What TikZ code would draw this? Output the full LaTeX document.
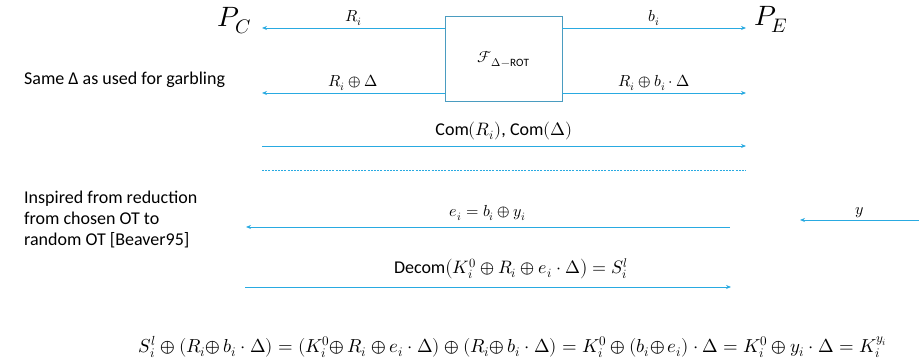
\documentclass[tikz,border=0pt]{standalone}
\usepackage{fontspec}
\usepackage{unicode-math}
\setmainfont{Carlito}
\setmathfont{Latin Modern Math}
\usetikzlibrary{arrows.meta}
\definecolor{arr}{RGB}{41,170,225}
\definecolor{boxc}{RGB}{74,156,192}
\tikzset{
  msg/.style={draw=arr, line width=0.8pt, -{Stealth[length=5pt,width=4pt]}},
  lbl/.style={font=\fontsize{16}{18}\selectfont, inner sep=1pt},
  tlbl/.style={font=\fontsize{18}{20}\selectfont, inner sep=1pt},
  side/.style={font=\fontsize{18}{21}\selectfont, align=left, anchor=west, inner sep=0pt},
  party/.style={font=\fontsize{28}{30}\selectfont, inner sep=0pt},
}
\begin{document}
\begin{tikzpicture}[x=1pt,y=-1pt]
\useasboundingbox (0,0) rectangle (919,363);
% parties
\node[party] (pc) at (234,21) {$P_C$};
\node[party] (pe) at (771,19) {$P_E$};
% functionality box
\node[draw=boxc, line width=0.8pt, minimum width=117pt, minimum height=85pt, inner sep=0pt, font=\fontsize{16}{18}\selectfont] (rot) at (503.5,58.5) {$\mathcal{F}_{\Delta-\mathrm{ROT}}$};
% free ends
\coordinate (l1) at (262,28);
\coordinate (r1) at (746,28);
\coordinate (l2) at (262,93);
\coordinate (r2) at (746,93);
\coordinate (cs) at (262,146);
\coordinate (ce) at (746,146);
\coordinate (ds) at (262,170);
\coordinate (de) at (746,170);
\coordinate (es) at (730,227);
\coordinate (ee) at (246,227);
\coordinate (ys) at (919,220);
\coordinate (ye) at (800,220);
\coordinate (ms) at (245,287);
\coordinate (me) at (731,287);
% row 1
\draw[msg] (rot.west |- l1) -- node[lbl, above=1pt] {$R_i$} (l1);
\draw[msg] (rot.east |- r1) -- node[lbl, above=1pt] {$b_i$} (r1);
% row 2
\draw[msg] (rot.west |- l2) -- node[lbl, above=1pt] {$R_i \oplus \Delta$} (l2);
\draw[msg] (rot.east |- r2) -- node[lbl, above=1pt] {$R_i \oplus b_i \cdot \Delta$} (r2);
% commitments
\draw[msg] (cs) -- node[tlbl, above=5pt] {Com$(R_i)$, Com$(\Delta)$} (ce);
% dashed separator
\draw[arr, line width=0.6pt, dash pattern=on 2pt off 1.2pt] (ds) -- (de);
% side notes
\node[side] (n1) at (24,80) {Same Δ as used for garbling};
\node[side] (n2) at (24,219) {Inspired from reduction\\from chosen OT to\\random OT [Beaver95]};
% second phase
\draw[msg] (es) -- node[lbl, above=5pt] {$e_i = b_i \oplus y_i$} (ee);
\draw[msg] (ys) -- node[lbl, above=1pt] {$y$} (ye);
\draw[msg] (ms) -- (me);
\node[tlbl, anchor=south] (dl) at (511,281) {Decom$\bigl(K_i^0 \oplus R_i \oplus e_i \cdot \Delta\bigr) = S_i^l$};
% bottom equation
\node[font=\fontsize{18.8}{21}\selectfont, inner sep=1pt] (eq) at (513,347) {$S_i^l \oplus (R_i{\oplus}\, b_i \cdot \Delta) = (K_i^0{\oplus}\, R_i \oplus e_i \cdot \Delta) \oplus (R_i{\oplus}\, b_i \cdot \Delta) = K_i^0 \oplus (b_i{\oplus}\, e_i)\cdot \Delta = K_i^0 \oplus y_i \cdot \Delta = K_i^{y_i}$};
\end{tikzpicture}
\end{document}
